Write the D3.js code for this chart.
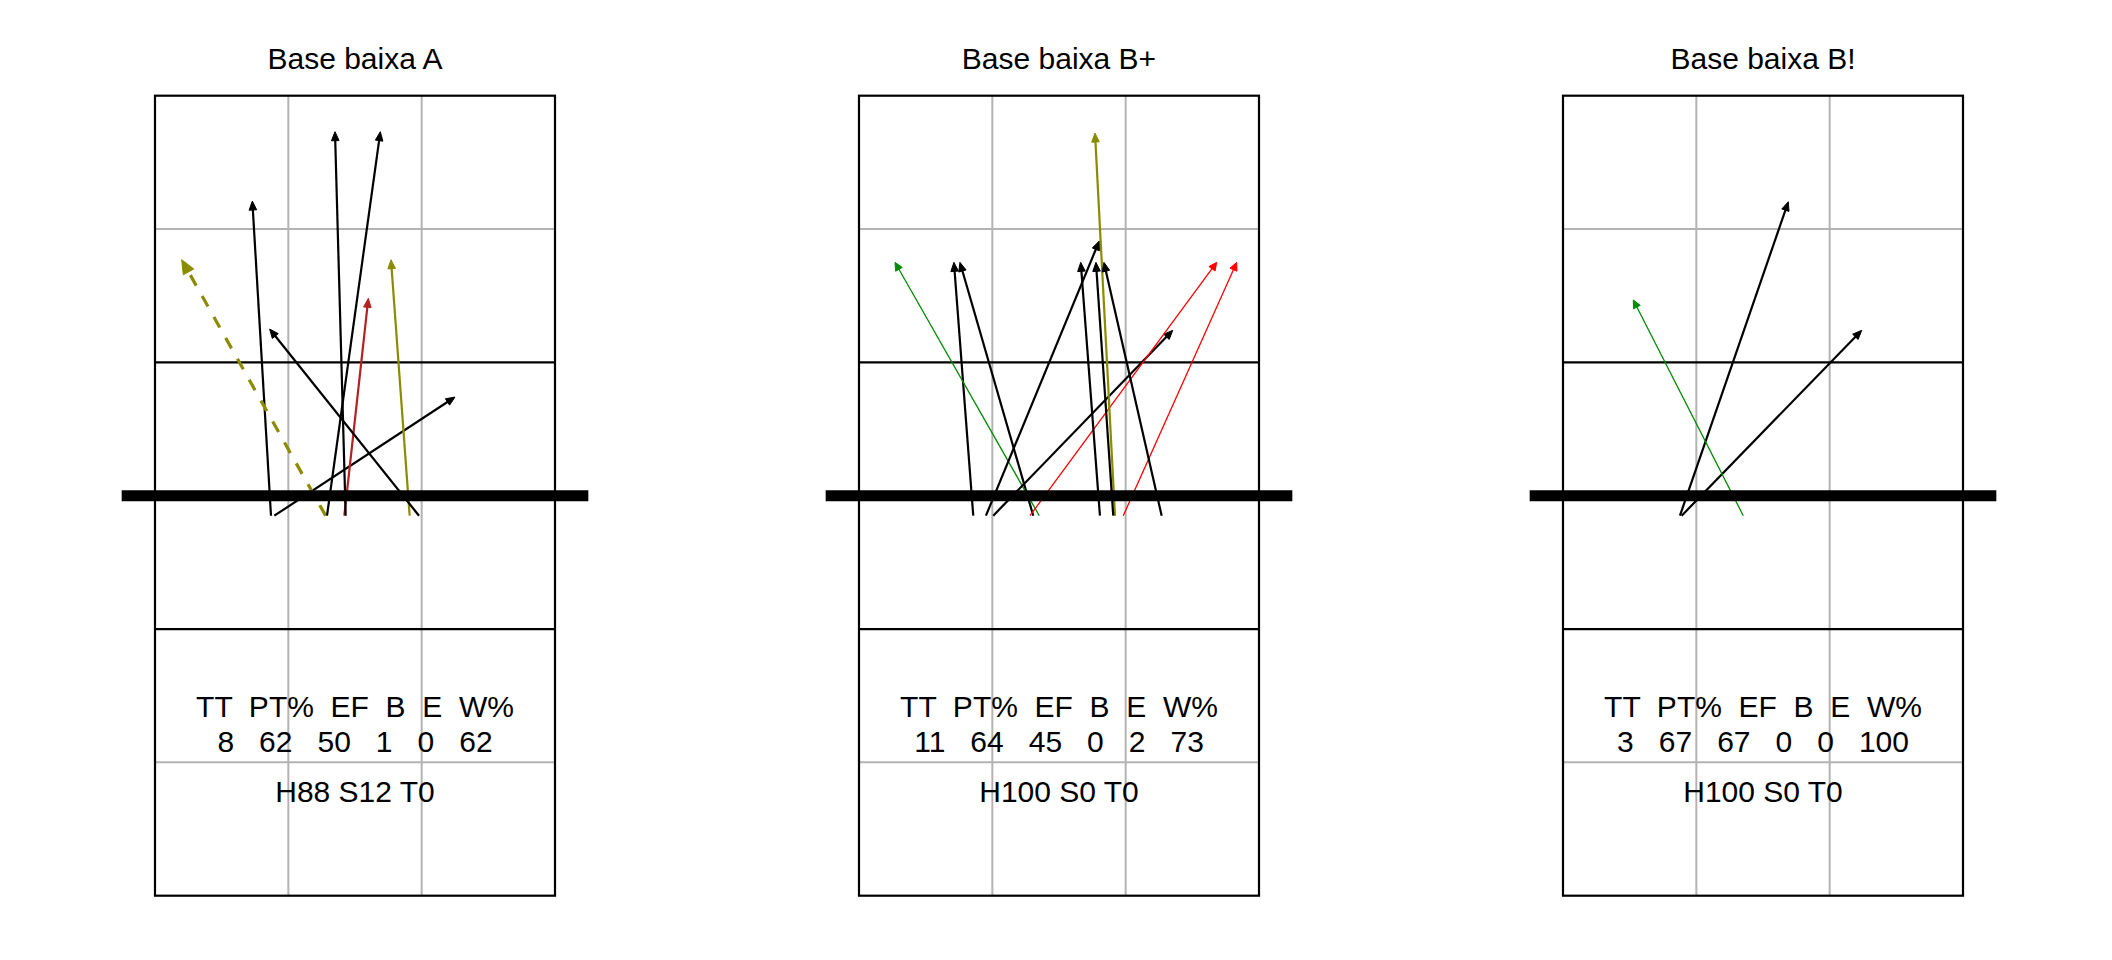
<!DOCTYPE html>
<html>
<head>
<meta charset="utf-8">
<script src="https://cdn.jsdelivr.net/npm/d3@7"></script>
<style>
  html, body { margin: 0; padding: 0; background: #fff; }
  svg { display: block; }
  text { font-family: "Liberation Sans", Arial, sans-serif; fill: #000; }
</style>
</head>
<body>
<svg id="chart" width="2112" height="960"></svg>
<script>
// ---------------- data ----------------
const panelTitles = ["Base baixa A", "Base baixa B+", "Base baixa B!"];
const statHeaders = ["TT", "PT%", "EF", "B", "E", "W%"];
const statValuesA = [8, 62, 50, 1, 0, 62];
const statValuesBplus = [11, 64, 45, 0, 2, 73];
const statValuesBbang = [3, 67, 67, 0, 0, 100];
const summaryLabels = ["H88 S12 T0", "H100 S0 T0", "H100 S0 T0"];

// arrows: start x/y, end x/y (court units), outcome code
const arrowsA_x0 = [1.37, 1.395, 1.78, 1.79, 1.92, 1.93, 2.41, 2.48];
const arrowsA_y0 = [3.35, 3.35, 3.35, 3.35, 3.35, 3.35, 3.35, 3.35];
const arrowsA_x1 = [1.23, 2.75, 0.70, 2.19, 2.10, 1.85, 2.27, 1.36];
const arrowsA_y1 = [5.71, 4.24, 5.27, 6.23, 4.98, 6.23, 5.27, 4.75];
const arrowsA_out = ["K", "K", "OD", "K", "DR", "K", "O", "K"];

const arrowsBp_x0 = [1.357, 1.807, 1.852, 1.452, 1.507, 1.782, 2.482, 2.42, 2.307, 2.407, 2.77];
const arrowsBp_y0 = [3.35, 3.35, 3.35, 3.35, 3.35, 3.35, 3.35, 3.35, 3.35, 3.35, 3.35];
const arrowsBp_x1 = [1.212, 1.257, 0.77, 2.302, 2.853, 3.183, 3.333, 2.27, 2.163, 2.277, 2.337];
const arrowsBp_y1 = [5.25, 5.25, 5.25, 5.41, 4.74, 5.25, 5.25, 6.22, 5.25, 5.25, 5.25];
const arrowsBp_out = ["K", "K", "G", "K", "K", "R", "R", "O", "K", "K", "K"];

const arrowsBb_x0 = [1.377, 1.39, 1.852];
const arrowsBb_y0 = [3.35, 3.35, 3.35];
const arrowsBb_x1 = [2.19, 2.74, 1.027];
const arrowsBb_y1 = [5.705, 4.74, 4.968];
const arrowsBb_out = ["K", "K", "G"];

// ---------------- styles ----------------
const outcomeStyle = {
  K:  {color: "#000000", width: 2.2, dash: null,    headL: 9,  headW: 3.8},
  O:  {color: "#8B8B00", width: 2.2, dash: null,    headL: 9,  headW: 3.8},
  OD: {color: "#8B8B00", width: 3.2, dash: "12,12", headL: 14, headW: 6},
  DR: {color: "#B22222", width: 2.2, dash: null,    headL: 9,  headW: 3.8},
  R:  {color: "#FF0000", width: 1.3, dash: null,    headL: 8,  headW: 3.8},
  G:  {color: "#008B00", width: 1.3, dash: null,    headL: 8,  headW: 3.8}
};

function buildArrows(x0, y0, x1, y1, out) {
  return x0.map((d, i) => ({x0: d, y0: y0[i], x1: x1[i], y1: y1[i], out: out[i]}));
}

const panels = [
  {title: panelTitles[0], values: statValuesA, summary: summaryLabels[0],
   arrows: buildArrows(arrowsA_x0, arrowsA_y0, arrowsA_x1, arrowsA_y1, arrowsA_out)},
  {title: panelTitles[1], values: statValuesBplus, summary: summaryLabels[1],
   arrows: buildArrows(arrowsBp_x0, arrowsBp_y0, arrowsBp_x1, arrowsBp_y1, arrowsBp_out)},
  {title: panelTitles[2], values: statValuesBbang, summary: summaryLabels[2],
   arrows: buildArrows(arrowsBb_x0, arrowsBb_y0, arrowsBb_x1, arrowsBb_y1, arrowsBb_out)}
];

// ---------------- layout ----------------
const svg = d3.select("#chart");
const panelW = 704;
const courtLeft = 155, courtW = 400;
const courtTop = 95.7, courtH = 800;
const y = d3.scaleLinear().domain([0.5, 6.5]).range([courtTop + courtH, courtTop]);
const grayCol = "#B3B3B3";
const fontSize = 30;

panels.forEach((p, i) => {
  const ox = i * panelW;
  const x = d3.scaleLinear().domain([0.5, 3.5]).range([ox + courtLeft, ox + courtLeft + courtW]);
  const g = svg.append("g");

  // gray grid
  [1.5, 2.5].forEach(v => {
    g.append("line").attr("x1", x(v)).attr("x2", x(v)).attr("y1", y(0.5)).attr("y2", y(6.5))
      .attr("stroke", grayCol).attr("stroke-width", 2);
  });
  [1.5, 5.5].forEach(v => {
    g.append("line").attr("x1", x(0.5)).attr("x2", x(3.5)).attr("y1", y(v)).attr("y2", y(v))
      .attr("stroke", grayCol).attr("stroke-width", 2);
  });
  // black lines (attack lines + border)
  [2.5, 4.5].forEach(v => {
    g.append("line").attr("x1", x(0.5)).attr("x2", x(3.5)).attr("y1", y(v)).attr("y2", y(v))
      .attr("stroke", "#000").attr("stroke-width", 2.2);
  });
  g.append("rect").attr("x", x(0.5)).attr("y", y(6.5))
    .attr("width", x(3.5) - x(0.5)).attr("height", y(0.5) - y(6.5))
    .attr("fill", "none").attr("stroke", "#000").attr("stroke-width", 2.2);

  // arrows
  const ag = g.append("g");
  p.arrows.forEach(a => {
    const s = outcomeStyle[a.out];
    const sx = x(a.x0), sy = y(a.y0), ex = x(a.x1), ey = y(a.y1);
    const dx = ex - sx, dy = ey - sy, len = Math.hypot(dx, dy);
    const ux = dx / len, uy = dy / len, nx = -uy, ny = ux;
    const bx = ex - ux * s.headL, by = ey - uy * s.headL;
    ag.append("line").attr("x1", sx).attr("y1", sy)
      .attr("x2", ex - ux * s.headL * 0.6).attr("y2", ey - uy * s.headL * 0.6)
      .attr("stroke", s.color).attr("stroke-width", s.width)
      .attr("stroke-dasharray", s.dash);
    ag.append("polygon")
      .attr("points", [[ex, ey], [bx + nx * s.headW, by + ny * s.headW], [bx - nx * s.headW, by - ny * s.headW]]
        .map(q => q.join(",")).join(" "))
      .attr("fill", s.color).attr("stroke", s.color).attr("stroke-width", 1).attr("stroke-linejoin", "round");
  });

  // net
  g.append("line").attr("x1", x(0.25)).attr("x2", x(3.75)).attr("y1", y(3.5)).attr("y2", y(3.5))
    .attr("stroke", "#000").attr("stroke-width", 11);

  // title
  g.append("text").attr("x", x(2)).attr("y", 69).attr("text-anchor", "middle")
    .attr("font-size", fontSize).text(p.title);

  // stats block
  g.append("text").attr("x", x(2)).attr("y", y(1.805) - 4.5).attr("text-anchor", "middle")
    .attr("font-size", fontSize).attr("xml:space", "preserve").style("white-space", "pre")
    .text(statHeaders.join("  "));
  g.append("text").attr("x", x(2)).attr("y", y(1.613) + 4.5).attr("text-anchor", "middle")
    .attr("font-size", fontSize).attr("xml:space", "preserve").style("white-space", "pre")
    .text(p.values.join("   "));

  g.append("text").attr("x", x(2)).attr("y", y(1.205)).attr("text-anchor", "middle")
    .attr("font-size", fontSize).text(p.summary);
});
</script>
</body>
</html>
